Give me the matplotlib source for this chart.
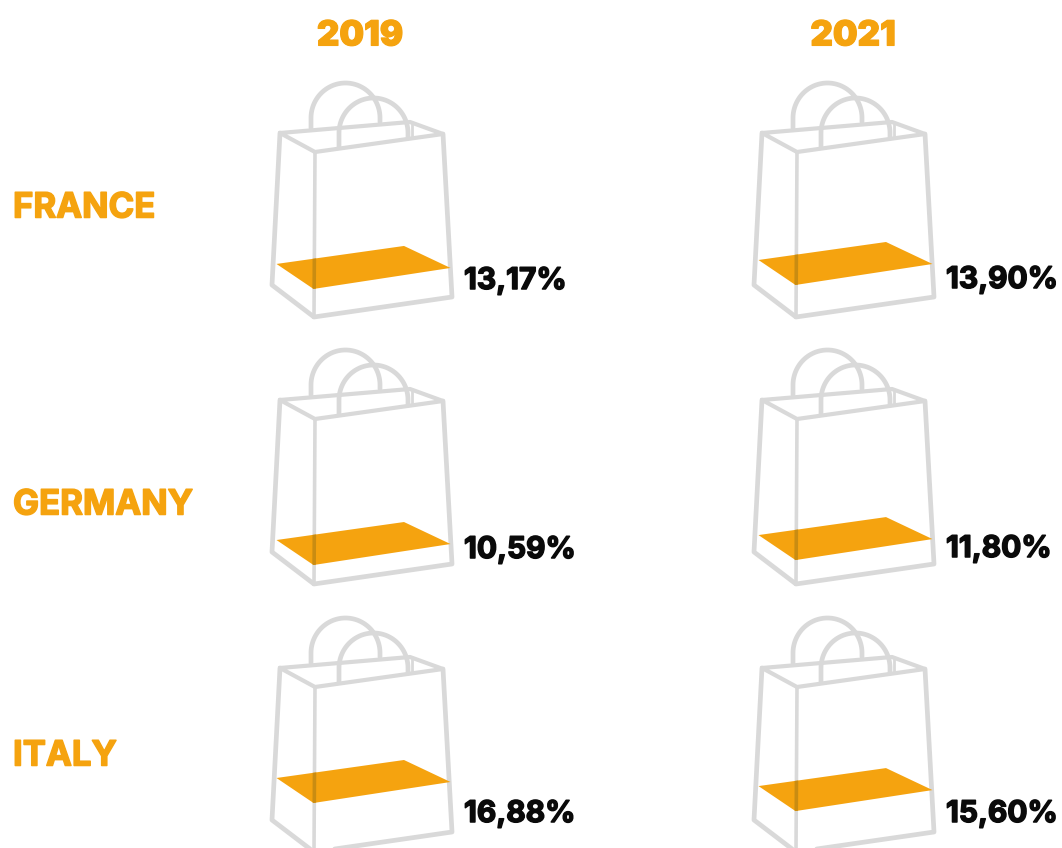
import numpy as np
import matplotlib
matplotlib.use("Agg")
import matplotlib.pyplot as plt
from matplotlib.patches import Polygon
import matplotlib.patheffects as pe

years = ["2019", "2021"]
countries = ["FRANCE", "GERMANY", "ITALY"]
labels_2019 = ["13,17%", "10,59%", "16,88%"]
labels_2021 = ["13,90%", "11,80%", "15,60%"]
# how full each bag is drawn, in percent of the bag's 165 px front edge
fill_2019 = [17.0, 11.5, 29.7]
fill_2021 = [19.4, 14.5, 24.8]

ORANGE = "#f5a30f"
GRAY = "#d9d9d9"
DARK = "#c98c12"
FONT = "Inter"

fig = plt.figure(figsize=(10.62, 8.48), dpi=100)
ax = fig.add_axes([0, 0, 1, 1])
ax.set_xlim(0, 1062)
ax.set_ylim(848, 0)
ax.axis("off")


def draw_bag(dx, dy, fill):
    def ln(xs, ys, lw=3.0, z=3):
        ax.plot(np.array(xs) + dx, np.array(ys) + dy, color=GRAY, lw=lw,
                solid_joinstyle="round", solid_capstyle="round", zorder=z)

    rise = fill * 165 / 100
    pts = np.array([(276.5, 292 - rise), (313.5, 317 - rise),
                    (450.5, 296 - rise), (404, 274 - rise)]) + (dx, dy)
    poly = Polygon(pts, closed=True, fc=ORANGE, ec="none", zorder=4)
    ax.add_patch(poly)

    t = np.radians(np.linspace(180, 360, 60))
    # back handle
    ln(np.r_[311, 345.5 + 34.5 * np.cos(t), 380], np.r_[128, 118 + 35 * np.sin(t), 122], 3.4, 2)
    # front handle
    ln(np.r_[339, 373.5 + 34.5 * np.cos(t), 408], np.r_[147, 133 + 35 * np.sin(t), 138], 3.4, 2)
    ln([411.5, 411.5], [124, 137], 2.0, 2)

    # rim
    ln([280, 410, 443, 315, 280], [133, 122, 134, 152, 133], 3.0)
    # sides
    ln([280, 272, 314, 452, 443], [133, 285, 317, 297, 134], 3.4)
    ax.plot([315 + dx, 314 + dx], [152 + dy, 317 + dy], color=GRAY, lw=2.6, zorder=3)
    front = ax.plot([315 + dx, 314 + dx], [152 + dy, 317 + dy], color=DARK, lw=2.6, zorder=5)[0]
    front.set_clip_path(poly)


col_dx = [0, 482]
row_dy = [0, 267, 535]
value_y_2019 = [278, 547, 811]
value_y_2021 = [277, 546, 811]
country_y = [205, 502, 753]

for j, (vals, labs, vy) in enumerate(zip([fill_2019, fill_2021],
                                         [labels_2019, labels_2021],
                                         [value_y_2019, value_y_2021])):
    for i, (v, lab) in enumerate(zip(vals, labs)):
        draw_bag(col_dx[j], row_dy[i], v)
        ax.text(464 + col_dx[j], vy[i], lab, fontsize=21.5, fontweight="bold",
                family=FONT, color="#0a0a0a", va="center_baseline", ha="left",
                path_effects=[pe.withStroke(linewidth=1.1, foreground="#0a0a0a")])

for x, y in zip([360, 853], years):
    ax.text(x, 33, y, fontsize=25, fontweight="black", family=FONT,
            color=ORANGE, ha="center", va="center_baseline",
            path_effects=[pe.withStroke(linewidth=0.8, foreground=ORANGE)])
for y, c in zip(country_y, countries):
    ax.text(13, y, c, fontsize=25, fontweight="bold", family=FONT,
            color=ORANGE, ha="left", va="center_baseline",
            path_effects=[pe.withStroke(linewidth=1.1, foreground=ORANGE)])

fig.savefig("out.png", dpi=100, facecolor="white")
